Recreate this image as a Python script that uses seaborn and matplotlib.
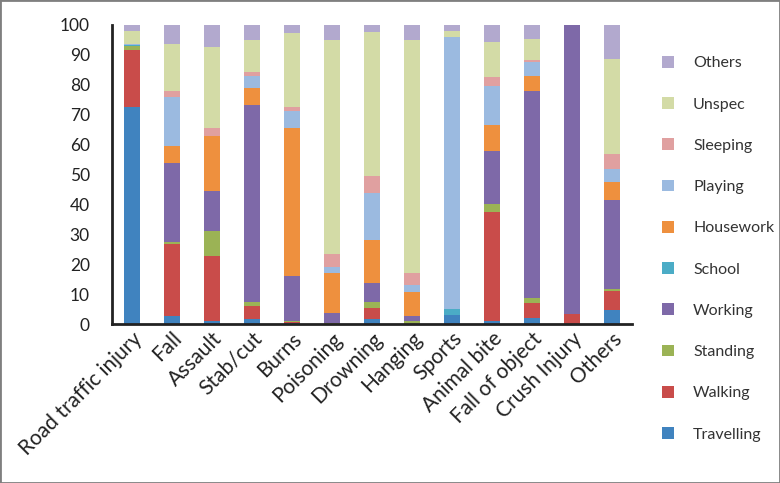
import matplotlib
matplotlib.use("Agg")
import matplotlib.pyplot as plt
from matplotlib.patches import Rectangle
import seaborn as sns
import pandas as pd

categories = ["Road traffic injury", "Fall", "Assault", "Stab/cut", "Burns", "Poisoning",
              "Drowning", "Hanging", "Sports", "Animal bite", "Fall of object",
              "Crush Injury", "Others"]

travelling = [72.5, 2.8, 1.2, 1.8, 0.3, 0.0, 1.7, 0.0, 3.2, 1.2, 2.0, 0.0, 4.8]
walking    = [19.1, 24.0, 21.5, 4.2, 0.6, 0.0, 3.9, 0.0, 0.0, 36.2, 5.0, 3.6, 6.4]
standing   = [1.4, 0.7, 8.5, 1.3, 0.3, 0.3, 2.0, 1.2, 0.0, 2.7, 1.7, 0.0, 0.7]
working    = [0.0, 26.3, 13.2, 66.0, 15.1, 3.6, 6.1, 1.6, 0.0, 17.8, 69.4, 96.4, 29.5]
school     = [0.3, 0.0, 0.0, 0.0, 0.0, 0.0, 0.0, 0.0, 1.9, 0.0, 0.0, 0.0, 0.0]
housework  = [0.0, 5.9, 18.6, 5.5, 49.2, 13.4, 14.3, 8.1, 0.0, 8.7, 5.0, 0.0, 6.0]
playing    = [0.3, 16.1, 0.0, 4.3, 5.8, 2.0, 15.8, 2.1, 91.0, 13.1, 4.7, 0.0, 4.6]
sleeping   = [0.0, 2.1, 2.7, 1.3, 1.4, 4.1, 5.9, 4.3, 0.0, 2.8, 0.5, 0.0, 4.8]
unspec     = [4.5, 15.8, 27.1, 10.6, 24.5, 71.6, 48.1, 77.7, 2.0, 11.7, 6.9, 0.0, 31.7]
others     = [1.9, 6.3, 7.2, 5.0, 2.8, 5.0, 2.2, 5.0, 1.9, 5.8, 4.8, 0.0, 11.5]

series_names = ["Travelling", "Walking", "Standing", "Working", "School",
                "Housework", "Playing", "Sleeping", "Unspec", "Others"]
series_values = [travelling, walking, standing, working, school,
                 housework, playing, sleeping, unspec, others]
colors = ["#4083BF", "#C94C4A", "#9BB355", "#7E69A8", "#4BACC6",
          "#EE903E", "#9BBAE0", "#E0A0A0", "#D3DBA6", "#B2A9CE"]

rows = []
for name, vals in zip(series_names, series_values):
    for cat, v in zip(categories, vals):
        rows.append({"cat": cat, "activity": name, "value": v})
df = pd.DataFrame(rows)

sns.set_style("white")
plt.rcParams["font.family"] = ["Lato", "DejaVu Sans"]

fig = plt.figure(figsize=(7.8, 4.83), dpi=100)
ax = fig.add_axes([112 / 780, (483 - 324.3) / 483, 520 / 780, 299.3 / 483])

hue_order = series_names[::-1]
palette = dict(zip(series_names, colors))
sns.histplot(data=df, x="cat", hue="activity", weights="value", multiple="stack",
             discrete=True, shrink=0.4, hue_order=hue_order, palette=palette,
             alpha=1, linewidth=0, ax=ax, legend=True)

ax.set_xlim(-0.5, len(categories) - 0.5)
ax.set_ylim(0, 100)
ax.set_yticks(range(0, 101, 10))
ax.set_xlabel("")
ax.set_ylabel("")

ax.set_xticks([i - 0.5 for i in range(len(categories) + 1)])
ax.set_xticklabels([])
ax.set_xticks(range(len(categories)), minor=True)
ax.set_xticklabels(categories, minor=True)
ax.tick_params(axis="x", which="minor", length=0, pad=3)
ax.tick_params(axis="x", which="major", length=6, width=1.5, direction="out", color="#222222")
ax.tick_params(axis="y", length=6, width=1.5, direction="out", color="#222222",
               labelsize=12.5, labelcolor="#222222", pad=10)
for lab in ax.get_xticklabels(minor=True):
    lab.set_rotation(45)
    lab.set_ha("right")
    lab.set_va("top")
    lab.set_rotation_mode("anchor")
    lab.set_fontsize(15)
    lab.set_color("#222222")

for s in ["top", "right"]:
    ax.spines[s].set_visible(False)
for s in ["left", "bottom"]:
    ax.spines[s].set_color("#222222")
    ax.spines[s].set_linewidth(2)

sns.move_legend(ax, "upper left", bbox_to_anchor=(1.03, 0.945), frameon=False,
                title=None, labelspacing=1.68, handlelength=0.75, handleheight=0.75,
                handletextpad=1.2, fontsize=11.5)
leg = ax.get_legend()
for t in leg.get_texts():
    t.set_color("#333333")

fig.patches.append(Rectangle((0, 0), 1, 1, transform=fig.transFigure, fill=False,
                             edgecolor="#7f7f7f", linewidth=2))

fig.savefig("out.png", dpi=100)
